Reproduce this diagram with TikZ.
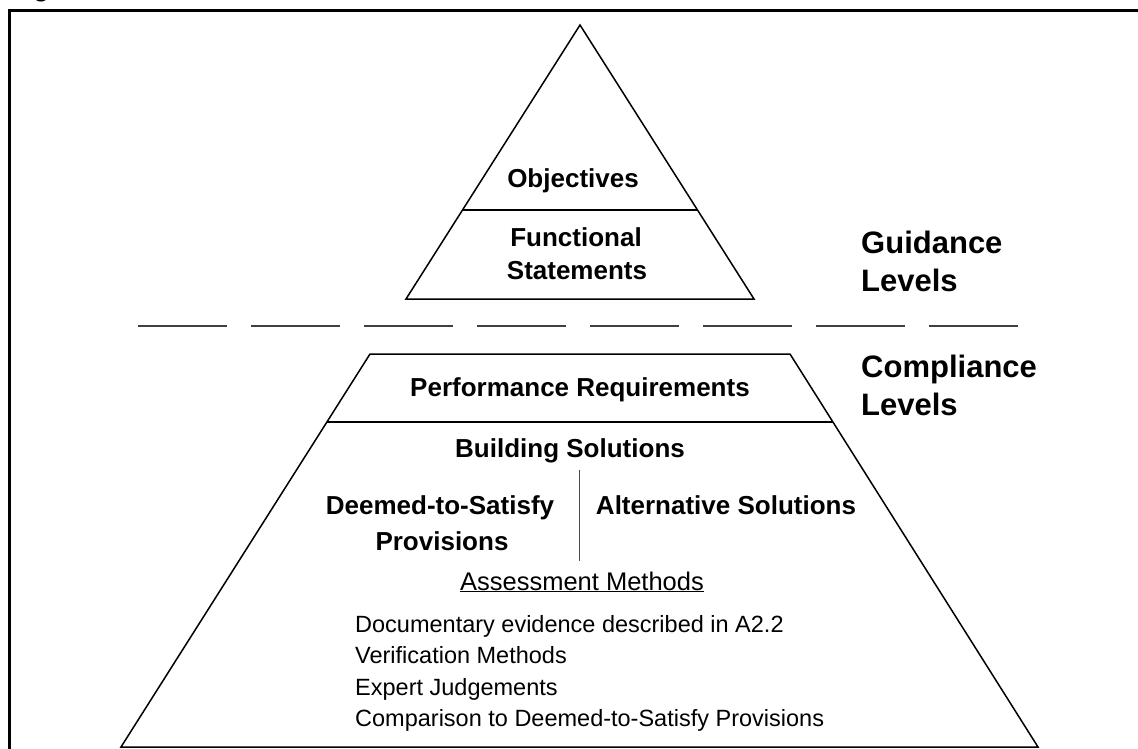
\documentclass[tikz,border=0pt]{standalone}
\usepackage{fontspec}
\setmainfont{Liberation Sans}
\begin{document}
\begin{tikzpicture}[x=1pt,y=-1pt,
  edge/.style={draw=black,line width=1.5pt,line join=miter},
  frame/.style={draw=black,line width=3pt},
  lbl/.style={font=\fontsize{26}{32}\selectfont\bfseries,inner sep=0pt,anchor=base},
  side/.style={font=\fontsize{31}{37}\selectfont\bfseries,inner sep=0pt,anchor=base west},
  item/.style={font=\fontsize{23.5}{29}\selectfont,inner sep=0pt,anchor=base west},
  sep/.style={draw=black!75,line width=1.4pt,dash pattern=on 89pt off 24pt}]
\useasboundingbox (0,0) rectangle (1138,749);
% cut-off caption and frame
\begin{scope}
\clip (0,0) rectangle (1138,749);
\node[lbl,anchor=base west] (cap) at (10,-3) {Figure};
\end{scope}
\draw[frame] (9.5,751) -- (9.5,10.5) -- (1140,10.5);
% top triangle
\coordinate (apex) at (580,25);
\coordinate (tbl) at (406,299);
\coordinate (tbr) at (754,299);
\coordinate (odl) at (463,210);
\coordinate (odr) at (697,210);
\draw[edge] (apex) -- (tbr) -- (tbl) -- cycle;
\draw[edge] (odl) -- (odr);
% separator
\coordinate (s1) at (138,326);
\coordinate (s2) at (1018,326);
\draw[sep] (s1) -- (s2);
% trapezoid
\coordinate (ptl) at (370,354);
\coordinate (ptr) at (790,354);
\coordinate (pbl) at (121,747);
\coordinate (pbr) at (1038,747);
\coordinate (pdl) at (327,422);
\coordinate (pdr) at (833,422);
\draw[edge] (ptl) -- (ptr) -- (pbr) -- (pbl) -- cycle;
\draw[edge] (pdl) -- (pdr);
\coordinate (v1) at (579,470);
\coordinate (v2) at (579,561);
\draw[draw=black!70,line width=1pt] (v1) -- (v2);
% labels
\node[lbl] (obj) at (573,187) {Objectives};
\node[lbl] (fun1) at (576,246) {Functional};
\node[lbl] (fun2) at (577,279) {Statements};
\node[lbl] (perf) at (580,396) {Performance Requirements};
\node[lbl] (bsol) at (570,457) {Building Solutions};
\node[lbl] (dts1) at (440,514) {Deemed-to-Satisfy};
\node[lbl] (dts2) at (442,550) {Provisions};
\node[lbl] (alt) at (726,514) {Alternative Solutions};
\node[lbl,font=\fontsize{25.5}{31}\selectfont] (am) at (582,590) {\underline{Assessment Methods}};
\node[item] (i1) at (355,632) {Documentary evidence described in A2.2};
\node[item] (i2) at (355,663) {Verification Methods};
\node[item] (i3) at (355,695) {Expert Judgements};
\node[item] (i4) at (355,726) {Comparison to Deemed-to-Satisfy Provisions};
\node[side] (g1) at (861,253) {Guidance};
\node[side] (g2) at (861,291) {Levels};
\node[side] (c1) at (861,377) {Compliance};
\node[side] (c2) at (861,415) {Levels};
\end{tikzpicture}
\end{document}
